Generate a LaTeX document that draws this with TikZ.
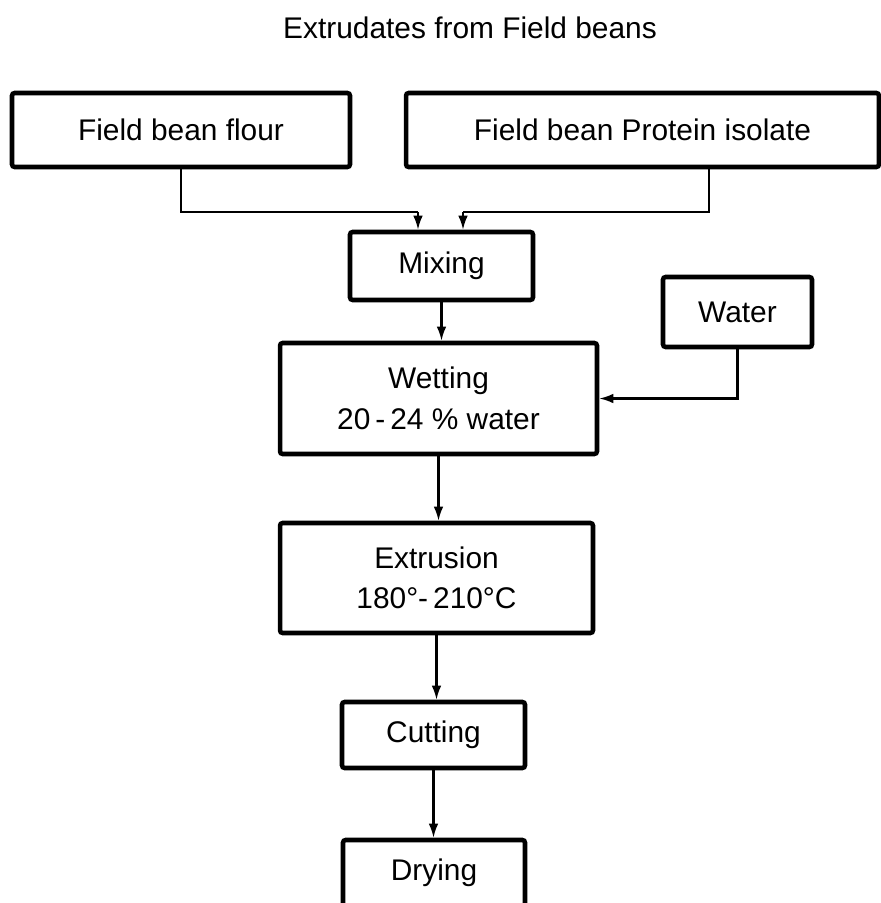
\documentclass[tikz,border=0pt]{standalone}
\usepackage{fontspec}
\setmainfont{Liberation Sans}
\usepackage{tikz}
\usetikzlibrary{arrows.meta,shapes}
\tikzstyle{step box}=[draw,line width=2.6pt,rounded corners=1.5pt,inner sep=0pt,align=center,font=\fontsize{17}{23}\selectfont]
\tikzstyle{feed} = [draw,line width=1.2pt,-{Latex[length=8pt,width=5.5pt]}]
\tikzstyle{line} = [draw,line width=1.2pt,-]

\begin{document}
\begin{tikzpicture}[x=0.02cm,y=-0.02cm]
    \useasboundingbox (0,0) rectangle (881,903);
    % title
    \node[font=\fontsize{17}{20}\selectfont] (title) at (470,28) {Extrudates from Field beans};

    % the raw materials
    \node[step box,minimum width=6.76cm,minimum height=1.48cm] (flour) at (181,130) {Field bean flour};
    \node[step box,minimum width=9.46cm,minimum height=1.48cm] (iso) at (642.5,130) {Field bean Protein isolate};

    % process steps
    \node[step box,minimum width=3.66cm,minimum height=1.36cm] (mix) at (441.5,266) {Mixing};
    \node[step box,minimum width=2.98cm,minimum height=1.40cm] (water) at (737.5,312) {Water};
    \node[step box,minimum width=6.34cm,minimum height=2.22cm] (wet) at (438.5,398.5) {Wetting\\20\,-\,24 \% water};
    \node[step box,minimum width=6.26cm,minimum height=2.20cm] (extr) at (436.5,578) {Extrusion\\180°-\,210°C};
    \node[step box,minimum width=3.66cm,minimum height=1.32cm] (cut) at (433.5,735) {Cutting};
    \node[step box,minimum width=3.64cm,minimum height=1.32cm] (dry) at (434,873) {Drying};

    % joints above the mixer
    \coordinate (j1) at (418,212);
    \coordinate (j2) at (463,212);
    \coordinate (k2) at (709,212);

    % connectors
    \path[line] (flour.south) |- (j1);
    \path[feed] (j1) -- (j1 |- mix.north);
    \path[line] (k2 |- iso.south) -- (k2) -- (j2);
    \path[feed] (j2) -- (j2 |- mix.north);
    \path[feed] (water.south) |- (wet.east);
    \foreach \source/\dest in {mix/wet, wet/extr, extr/cut, cut/dry}
        \path[feed] (\source.south) -- (\source.south |- \dest.north);
\end{tikzpicture}
\end{document}
